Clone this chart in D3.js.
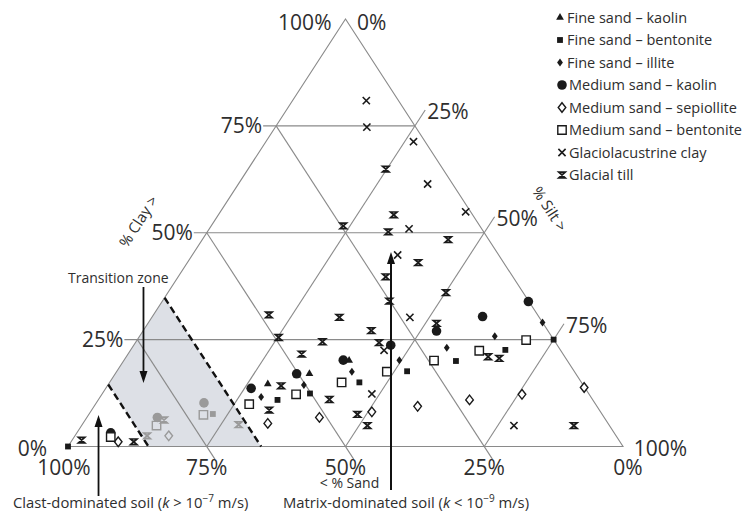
<!DOCTYPE html>
<html><head><meta charset="utf-8">
<script src="https://cdn.jsdelivr.net/npm/d3@7"></script>
<style>
body{margin:0;background:#fff;}
svg{display:block;font-family:"Open Sans",sans-serif;}
</style></head><body>
<svg id="chart" width="744" height="515"></svg>
<script>
// ---- DATA: each point is [clay %, silt %]; sand % = 100 - clay - silt ----
const fineKaolin      = [[14.6,28.7],[17.0,35.0],[20.1,40.6]];
const fineBentonite   = [[0,0],[10.9,32.3],[12.4,37.4],[15.0,45.0],[17.6,52.3],[20.0,59.9],[22.6,67.5],[25.0,75.0]];
const fineIllite      = [[11.6,29.0],[14.4,35.3],[17.5,42.4],[20.2,49.6],[23.1,56.7],[25.8,64.0],[29.0,71.0]];
const medKaolin       = [[3.2,6.1],[13.6,26.2],[17.0,32.7],[20.2,39.5],[23.7,46.3],[27.0,52.9],[30.4,59.5],[33.9,66.0]];
const medSepiolite    = [[1.1,8.5],[5.4,33.3],[6.8,41.9],[8.1,50.7],[9.4,58.3],[10.9,66.9],[12.2,75.7],[13.8,86.1]];
const medBentonite    = [[2.2,6.6],[9.9,27.7],[12.2,35.0],[15.0,41.8],[17.5,48.7],[20.1,55.9],[22.4,62.9],[24.9,70.1]];
const glacioClay      = [[80.9,13.3],[74.7,16.5],[71.3,26.6],[61.4,34.1],[54.9,44.2],[50.9,36.0],[44.8,37.0],[30.2,46.5],[22.5,45.7],[12.3,48.6],[4.9,77.9]];
const glacialTill     = [[1.5,1.7],[1.1,11.3],[30.8,20.8],[30.2,33.8],[27.1,41.1],[25.5,25.2],[24.5,33.6],[24.3,43.9],[21.6,31.3],[14.2,31.3],[8.5,32.0],[11.0,41.6],[7.5,48.4],[4.9,51.5],[64.9,24.8],[54.2,31.6],[51.6,23.8],[50.2,32.6],[48.4,44.3],[43.0,41.6],[39.7,37.4],[34.0,40.9],[36.0,50.1],[28.8,52.0],[21.0,65.2],[20.6,67.4],[4.9,88.7]];
// points inside the transition zone (drawn grey)
const fineBentoniteT  = [[7.6,22.3]];
const medKaolinT      = [[6.8,12.7],[10.2,19.4]];
const medSepioliteT   = [[2.5,16.9]];
const medBentoniteT   = [[4.9,13.5],[7.4,20.7]];
const glacialTillT    = [[2.5,13.0],[6.2,14.2],[5.1,28.2]];

const seriesNames = ["Fine sand \u2013 kaolin","Fine sand \u2013 bentonite","Fine sand \u2013 illite","Medium sand \u2013 kaolin","Medium sand \u2013 sepiollite","Medium sand \u2013 bentonite","Glaciolacustrine clay","Glacial till"];
const gridValues = [25,50,75];
const tickValues = [0,25,50,75,100];
const transitionSand = [85.5,65.2];   // sand % of the two dashed boundaries

// ---- SETUP ----
const svg = d3.select("#chart");
const xS = d3.scaleLinear().domain([0,100]).range([68,623]);
const yS = d3.scaleLinear().domain([0,100]).range([446.5,19]);
const P = (clay, silt) => [xS(silt + clay/2), yS(clay)];
const BLACK = "#1a1a1a", GREY = "#9a9a9a", GRID = "#8a8a8a", TXT = "#2e2e2e";

const symbols = ["triangle","square","diamond","circle","openDiamond","openSquare","x","till"];
const seriesData = [fineKaolin,fineBentonite,fineIllite,medKaolin,medSepiolite,medBentonite,glacioClay,glacialTill];
const seriesGrey = [[],fineBentoniteT,[],medKaolinT,medSepioliteT,medBentoniteT,[],glacialTillT];

function symPath(t){
  switch(t){
    case "triangle": return d3.symbol(d3.symbolTriangle, 26)();
    case "square": return d3.symbol(d3.symbolSquare, 34)();
    case "diamond": return "M0,-4L2.9,0L0,4L-2.9,0Z";
    case "circle": return d3.symbol(d3.symbolCircle, 72)();
    case "openDiamond": return "M0,-4.8L3.8,0L0,4.8L-3.8,0Z";
    case "openSquare": return "M-4.2,-4.2H4.2V4.2H-4.2Z";
    case "x": return "M-3.6,-3.6L3.6,3.6M3.6,-3.6L-3.6,3.6";
    case "till": return "M-3.2,-2.8H3.2L-3.2,2.8H3.2Z";
  }
}
function styleSym(sel, t, color, openFill){
  if (["triangle","square","diamond","circle"].includes(t)) sel.attr("fill", color).attr("stroke","none");
  else if (t==="openDiamond"||t==="openSquare") sel.attr("fill", openFill).attr("stroke", color).attr("stroke-width",1.4);
  else if (t==="till") sel.attr("fill","none").attr("stroke", color).attr("stroke-width",1.7);
  else sel.attr("fill","none").attr("stroke", color).attr("stroke-width",1.6);
}

// ---- transition zone fill ----
const [sL, sR] = transitionSand;
const zone = [P(100-sL,0), P(100-sR,0), P(0,100-sR), P(0,100-sL)];
svg.append("path").attr("d", d3.line()(zone)+"Z").attr("fill","#dde0e6");

// ---- grid ----
const dirL = (() => { const a=P(0,0), b=P(100,0); const dx=b[0]-a[0], dy=b[1]-a[1], n=Math.hypot(dx,dy); return [dx/n, dy/n]; })();
const dirR = (() => { const a=P(0,100), b=P(100,0); const dx=a[0]-b[0], dy=a[1]-b[1], n=Math.hypot(dx,dy); return [dx/n, dy/n]; })(); // down-right
const g = svg.append("g").attr("stroke", GRID).attr("stroke-width",1.1).attr("fill","none");
gridValues.forEach(v => {
  const a = P(v,0), b = P(v,100-v);
  g.append("line").attr("x1",a[0]-13).attr("y1",a[1]).attr("x2",b[0]).attr("y2",b[1]);
  const c = P(0,v), d = P(100-v,v);
  g.append("line").attr("x1",c[0]).attr("y1",c[1]).attr("x2",d[0]+dirL[0]*19).attr("y2",d[1]+dirL[1]*19);
  const e = P(100-v,0), f = P(0,100-v);
  g.append("line").attr("x1",e[0]).attr("y1",e[1]).attr("x2",f[0]+dirR[0]*15).attr("y2",f[1]+dirR[1]*15);
});
g.append("path").attr("d", d3.line()([P(0,0),P(100,0),P(0,100)])+"Z");

// ---- dashed boundaries ----
transitionSand.forEach(s => {
  const a = P(100-s,0), b = P(0,100-s);
  svg.append("line").attr("x1",a[0]).attr("y1",a[1]).attr("x2",b[0]).attr("y2",b[1])
    .attr("stroke","#111").attr("stroke-width",2.4).attr("stroke-dasharray","7,4");
});

// ---- points ----
symbols.forEach((t,i) => {
  const grp = svg.append("g");
  seriesGrey[i].forEach(p => {
    const [x,y] = P(p[0],p[1]);
    styleSym(grp.append("path").attr("d",symPath(t)).attr("transform",`translate(${x},${y})`), t, GREY, "none");
  });
  seriesData[i].forEach(p => {
    const [x,y] = P(p[0],p[1]);
    styleSym(grp.append("path").attr("d",symPath(t)).attr("transform",`translate(${x},${y})`), t, BLACK, "#fff");
  });
});

// ---- arrows ----
function arrow(x, y1, y2, w){
  svg.append("line").attr("x1",x).attr("y1",y1).attr("x2",x).attr("y2",y2 + (y2<y1? 10 : -10))
    .attr("stroke","#111").attr("stroke-width",w);
  const s = y2<y1 ? 1 : -1;
  svg.append("path").attr("d",`M${x},${y2}L${x-4},${y2+12*s}L${x+4},${y2+12*s}Z`).attr("fill","#111");
}
arrow(xS(58.2), 490, 252, 2);    // matrix-dominated
arrow(xS(5.5), 496, 415, 1.8);   // clast-dominated
arrow(xS(13.6), 287, 383, 1.8);  // transition zone

// ---- tick labels ----
const lab = svg.append("g").attr("font-size",21).attr("fill",TXT);
tickValues.forEach(v => {
  const a = P(v,0);
  const dx = v===0 ? -21 : -14, dy = v===0 ? 9 : (v===100 ? 10.5 : 7.5);
  lab.append("text").attr("x",a[0]+dx).attr("y",a[1]+dy).attr("text-anchor","end").text(v+"%");
  const b = P(100-v,v);
  let sx, sy;
  if (v===0){ sx=b[0]+11.5; sy=b[1]+10.5; }
  else if (v===100){ sx=b[0]+10.7; sy=b[1]+9.5; }
  else { sx=b[0]+dirL[0]*19+2; sy=b[1]+dirL[1]*19+9.5; }
  lab.append("text").attr("x",sx).attr("y",sy).text(v+"%");
  const c = P(0,100-v);
  const adj = v===100 ? -4 : (v===0 ? 5 : 0);
  lab.append("text").attr("x",c[0]+adj).attr("y",475).attr("text-anchor","middle").text(v+"%");
});

// ---- axis titles ----
svg.append("text").attr("transform","translate(138.5,221.5) rotate(-57)").attr("text-anchor","middle").attr("dy","0.35em")
  .attr("font-size",15).attr("fill",TXT).text("% Clay >");
svg.append("text").attr("transform","translate(549.5,209) rotate(57)").attr("text-anchor","middle").attr("dy","0.35em")
  .attr("font-size",15).attr("fill",TXT).text("% Silt >");
svg.append("text").attr("x",349.5).attr("y",488).attr("text-anchor","middle").attr("font-size",14).attr("fill",TXT).text("< % Sand");
svg.append("text").attr("x",68).attr("y",282.5).attr("font-size",14).attr("fill",TXT).text("Transition zone");

function kText(x, op, exp){
  const t = svg.append("text").attr("x",x.x).attr("y",508).attr("font-size",14.8).attr("fill",TXT);
  t.append("tspan").text(x.label + " (");
  t.append("tspan").attr("font-style","italic").text("k");
  t.append("tspan").text(" " + op + " 10");
  t.append("tspan").attr("dy",-6).attr("font-size",10).text("\u2212" + exp);
  t.append("tspan").attr("dy",6).text(" m/s)");
}
kText({x:13, label:"Clast-dominated soil"}, ">", "7");
kText({x:283, label:"Matrix-dominated soil"}, "<", "9");

// ---- legend ----
const leg = svg.append("g");
seriesNames.forEach((n,i) => {
  const y = 22.5 + 22.5*i;
  const t = symbols[i];
  styleSym(leg.append("path").attr("d",symPath(t)).attr("transform",`translate(${i<3?560:562},${y-5})`), t, BLACK, "#fff");
  leg.append("text").attr("x", i<3 ? 567 : 569).attr("y",y).attr("font-size",14.5).attr("fill",TXT).text(n);
});
</script>
</body></html>
